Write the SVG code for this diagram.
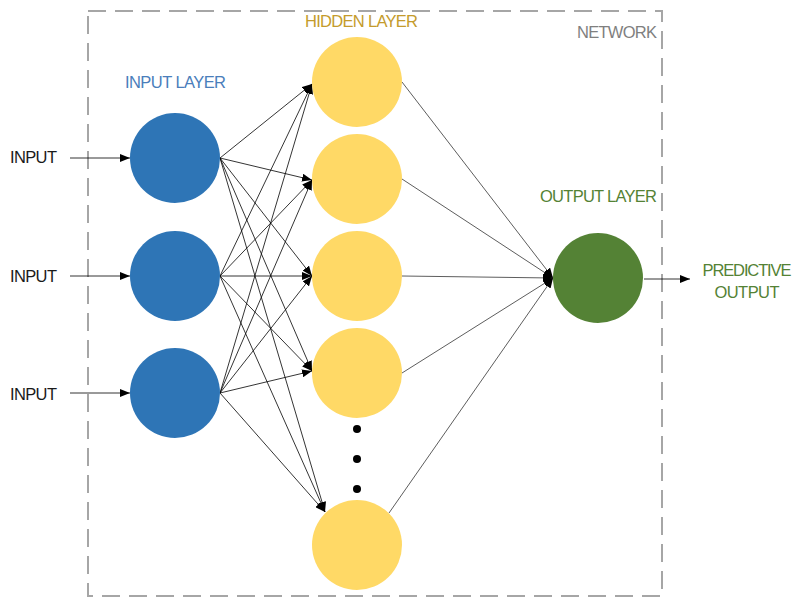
<svg xmlns="http://www.w3.org/2000/svg" width="794" height="597" viewBox="0 0 794 597">
<defs>
<style>
.lbl{font-family:"Liberation Sans",Arial,sans-serif;font-size:16.5px}
.in{fill:#2e75b6}
.hid{fill:#ffd966}
.out{fill:#548235}
.e{stroke:#000;stroke-width:0.8;fill:none;marker-end:url(#ah)}
.e2{stroke:#333;stroke-width:0.8;fill:none;marker-end:url(#ah)}
</style>
<marker id="ah" markerUnits="userSpaceOnUse" markerWidth="10" markerHeight="8" refX="10" refY="4" orient="auto">
<path d="M0,0 L10,4 L0,8 z" fill="#000"/>
</marker>
</defs>
<rect width="794" height="597" fill="#fff"/>
<g id="network">
<rect x="88" y="11" width="574" height="585" fill="none" stroke="#a6a6a6" stroke-width="2" stroke-dasharray="18,9"/>
<text class="lbl" x="657" y="38" text-anchor="end" fill="#7f7f7f" textLength="80">NETWORK</text>
</g>
<g id="labels">
<text class="lbl" x="125" y="88" fill="#4a7ebb" textLength="101">INPUT LAYER</text>
<text class="lbl" x="305" y="27" fill="#c49b2c" textLength="113">HIDDEN LAYER</text>
<text class="lbl" x="540" y="202" fill="#548235" textLength="117">OUTPUT LAYER</text>
</g>
<g id="connectors">
<line class="e" x1="70" y1="158" x2="130" y2="158"/>
<line class="e" x1="70" y1="276" x2="130" y2="276"/>
<line class="e" x1="70" y1="393" x2="130" y2="393"/>
<line class="e" x1="220" y1="158" x2="312" y2="84"/>
<line class="e" x1="220" y1="158" x2="312" y2="180"/>
<line class="e" x1="220" y1="158" x2="312" y2="276"/>
<line class="e" x1="220" y1="158" x2="312" y2="371"/>
<line class="e" x1="220" y1="158" x2="325" y2="512"/>
<line class="e" x1="220" y1="276" x2="312" y2="84"/>
<line class="e" x1="220" y1="276" x2="312" y2="180"/>
<line class="e" x1="220" y1="276" x2="312" y2="276"/>
<line class="e" x1="220" y1="276" x2="312" y2="371"/>
<line class="e" x1="220" y1="276" x2="325" y2="512"/>
<line class="e" x1="220" y1="393" x2="312" y2="84"/>
<line class="e" x1="220" y1="393" x2="312" y2="180"/>
<line class="e" x1="220" y1="393" x2="312" y2="276"/>
<line class="e" x1="220" y1="393" x2="312" y2="371"/>
<line class="e" x1="220" y1="393" x2="325" y2="512"/>
<line class="e2" x1="402" y1="82" x2="553" y2="278"/>
<line class="e2" x1="402" y1="179" x2="553" y2="278"/>
<line class="e2" x1="402" y1="276" x2="553" y2="278"/>
<line class="e2" x1="402" y1="373" x2="553" y2="278"/>
<line class="e2" x1="389" y1="513" x2="553" y2="278"/>
<line class="e" x1="644" y1="279" x2="690" y2="279"/>
</g>
<g id="inputs">
<text class="lbl" x="10" y="163" fill="#1a1a1a" textLength="47">INPUT</text>
<text class="lbl" x="10" y="282" fill="#1a1a1a" textLength="47">INPUT</text>
<text class="lbl" x="10" y="400" fill="#1a1a1a" textLength="47">INPUT</text>
</g>
<g id="in1"><circle class="in" cx="175" cy="158" r="45"/></g>
<g id="in2"><circle class="in" cx="175" cy="276" r="45"/></g>
<g id="in3"><circle class="in" cx="175" cy="393" r="45"/></g>
<g id="h1"><circle class="hid" cx="357" cy="82" r="45"/></g>
<g id="h2"><circle class="hid" cx="357" cy="179" r="45"/></g>
<g id="h3"><circle class="hid" cx="357" cy="276" r="45"/></g>
<g id="h4"><circle class="hid" cx="357" cy="373" r="45"/></g>
<g id="hdots">
<circle cx="357" cy="429" r="4" fill="#000"/>
<circle cx="357" cy="459" r="4" fill="#000"/>
<circle cx="357" cy="489" r="4" fill="#000"/>
</g>
<g id="h5"><circle class="hid" cx="357" cy="545" r="45"/></g>
<g id="out"><circle class="out" cx="598" cy="278" r="45"/></g>
<g id="predictive">
<text class="lbl" x="747" y="276" text-anchor="middle" fill="#548235" textLength="89">PREDICTIVE</text>
<text class="lbl" x="747" y="298" text-anchor="middle" fill="#548235" textLength="65">OUTPUT</text>
</g>
</svg>
